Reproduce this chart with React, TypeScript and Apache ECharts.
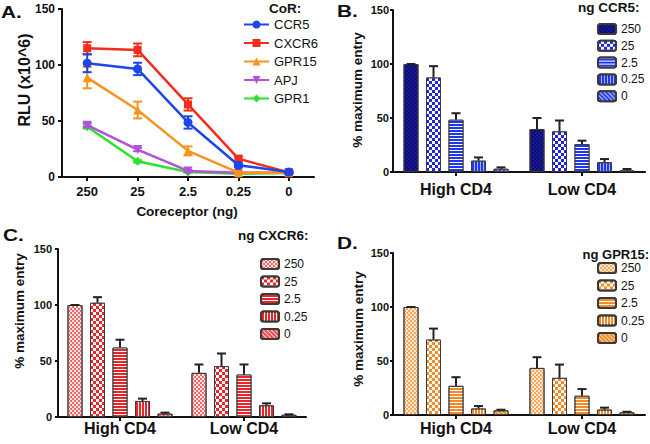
import React, { useEffect, useRef } from 'react';
import * as echarts from 'echarts';

// ---------- data ----------
const doseLabels = ['250', '25', '2.5', '0.25', '0'];
const coreceptors = ['CCR5', 'CXCR6', 'GPR15', 'APJ', 'GPR1'];

const rluCCR5 = [101.6, 96.5, 48.7, 10.5, 4.5];
const rluCCR5Err = [8, 5.5, 5.5, 1.5, 1];
const rluCXCR6 = [115, 113.5, 64.8, 16.4, 4];
const rluCXCR6Err = [5.5, 5.7, 5.5, 2, 1];
const rluGPR15 = [88.7, 59.8, 23.3, 3.9, 3.9];
const rluGPR15Err = [9.5, 7.5, 4, 1, 1];
const rluAPJ = [46.3, 24.5, 5.4, 3.9, 3.9];
const rluAPJErr = [2, 1.5, 1, 0.5, 0.5];
const rluGPR1 = [44.8, 14, 4.5, 3, 3.6];
const rluGPR1Err = [1.5, 1, 0.5, 0.5, 0.5];

const cd4Groups = ['High CD4', 'Low CD4'];

// panel B (CCR5): per dose [High, Low]
const ccr5High = [100, 87.5, 48.4, 10.5, 3];
const ccr5HighErr = [0, 10.5, 6, 3, 1.3];
const ccr5Low = [39.7, 37.6, 25.9, 9, 1.5];
const ccr5LowErr = [10.3, 10.1, 3.1, 3, 1.3];

// panel C (CXCR6)
const cxcr6High = [100, 102, 62, 14.3, 3];
const cxcr6HighErr = [0, 5, 7, 2.1, 0.9];
const cxcr6Low = [39.4, 45.4, 37.9, 10.4, 2];
const cxcr6LowErr = [7.5, 11.3, 9, 1.8, 0.4];

// panel D (GPR15)
const gpr15High = [100, 69.8, 27, 6, 4.3];
const gpr15HighErr = [0, 10.2, 8, 2.3, 0.6];
const gpr15Low = [43.6, 34.4, 17.8, 5, 2.5];
const gpr15LowErr = [9.9, 12.3, 6.2, 1.8, 0.5];

// ---------- styles ----------
const FONT = '"Liberation Sans", Arial, Helvetica, sans-serif';
const INK = '#111';

const lineColors = ['#1e46e6', '#f02d1e', '#f7941d', '#b450dc', '#2fe02f'];
const lineSymbols = ['circle', 'rect', 'triangle', 'triangle', 'diamond'];
const lineSymbolRotate = [0, 0, 0, 180, 0];

const baseDecal = { symbol: 'rect', symbolSize: 1, symbolKeepAspect: false, rotation: 0 };
const decalFine = (c: string) => ({ ...baseDecal, color: c, dashArrayX: [[2, 2], [0, 2, 2, 0]], dashArrayY: [2, 0] });
const decalChecker = (c: string) => ({ ...baseDecal, color: c, dashArrayX: [[3, 3], [0, 3, 3, 0]], dashArrayY: [3, 0] });
const decalHoriz = (c: string) => ({ ...baseDecal, color: c, dashArrayX: [1, 0], dashArrayY: [1, 2] });
const decalVert = (c: string) => ({ ...baseDecal, color: c, dashArrayX: [1, 2], dashArrayY: [1, 0] });
const decalDiag = (c: string) => ({ ...baseDecal, color: c, dashArrayX: [1, 2], dashArrayY: [1, 0], rotation: -Math.PI / 4 });

const panelStyles = {
  B: [
    { color: '#0c0c78', decal: decalFine('#1a1a90') },
    { color: '#1f24e6', decal: decalChecker('#ffffff') },
    { color: '#1f36f0', decal: decalHoriz('#ffffff') },
    { color: '#2238f0', decal: decalVert('#a8b4ff') },
    { color: '#2c44f0', decal: decalDiag('#b8c2ff') },
  ],
  C: [
    { color: '#fde2e2', decal: decalFine('#ee6a6a') },
    { color: '#e8262b', decal: decalChecker('#ffffff') },
    { color: '#e8262b', decal: decalHoriz('#ffffff') },
    { color: '#e8262b', decal: decalVert('#ffffff') },
    { color: '#ee4a4a', decal: decalDiag('#ffd0d0') },
  ],
  D: [
    { color: '#fde6cc', decal: decalFine('#f5a860') },
    { color: '#f28c28', decal: decalChecker('#ffffff') },
    { color: '#f28c28', decal: decalHoriz('#ffffff') },
    { color: '#f28c28', decal: decalVert('#ffffff') },
    { color: '#f28c28', decal: decalDiag('#fdd5a8') },
  ],
};

const BAR_W = 15;
const BAR_STEP = 22.5;

function App() {
  const ref = useRef<HTMLDivElement>(null);

  useEffect(() => {
    if (!ref.current) return;
    const chart = echarts.init(ref.current, undefined, { renderer: 'svg' });

    const rluMeans = [rluCCR5, rluCXCR6, rluGPR15, rluAPJ, rluGPR1];
    const rluErrs = [rluCCR5Err, rluCXCR6Err, rluGPR15Err, rluAPJErr, rluGPR1Err];

    const lineErrRender = (color: string) => (params: any, api: any) => {
      const i = api.value(0);
      const lo = api.coord([i, api.value(1)]);
      const hi = api.coord([i, api.value(2)]);
      const x = lo[0];
      const st = { stroke: color, lineWidth: 2 };
      return {
        type: 'group',
        children: [
          { type: 'line', shape: { x1: x, y1: lo[1], x2: x, y2: hi[1] }, style: st },
          { type: 'line', shape: { x1: x - 4.5, y1: lo[1], x2: x + 4.5, y2: lo[1] }, style: st },
          { type: 'line', shape: { x1: x - 4.5, y1: hi[1], x2: x + 4.5, y2: hi[1] }, style: st },
        ],
      };
    };

    const barErrRender = (params: any, api: any) => {
      const g = api.value(0);
      const b = api.value(1);
      const v = api.value(2);
      const e = api.value(3);
      const base = api.coord([g, v]);
      const top = api.coord([g, v + e]);
      const x = base[0] + (b - 2) * BAR_STEP;
      const st = { stroke: '#222', lineWidth: 2 };
      return {
        type: 'group',
        children: [
          { type: 'line', shape: { x1: x, y1: base[1], x2: x, y2: top[1] }, style: st },
          { type: 'line', shape: { x1: x - 4.5, y1: top[1], x2: x + 4.5, y2: top[1] }, style: st },
        ],
      };
    };

    const series: any[] = [];

    // Panel A lines
    coreceptors.forEach((name, k) => {
      series.push({
        name,
        type: 'line',
        xAxisIndex: 0,
        yAxisIndex: 0,
        data: rluMeans[k],
        symbol: lineSymbols[k],
        symbolRotate: lineSymbolRotate[k],
        symbolSize: k === 1 ? 8 : 9,
        lineStyle: { width: 2.5, color: lineColors[k] },
        itemStyle: { color: lineColors[k] },
        z: 3 + (5 - k),
      });
      series.push({
        type: 'custom',
        xAxisIndex: 0,
        yAxisIndex: 0,
        renderItem: lineErrRender(lineColors[k]),
        data: rluMeans[k].map((m, i) => [i, m - rluErrs[k][i], m + rluErrs[k][i]]),
        encode: { x: 0, y: [1, 2] },
        z: 3 + (5 - k),
      });
    });

    const barPanels = [
      { key: 'B', idx: 1, high: ccr5High, highErr: ccr5HighErr, low: ccr5Low, lowErr: ccr5LowErr },
      { key: 'C', idx: 2, high: cxcr6High, highErr: cxcr6HighErr, low: cxcr6Low, lowErr: cxcr6LowErr },
      { key: 'D', idx: 3, high: gpr15High, highErr: gpr15HighErr, low: gpr15Low, lowErr: gpr15LowErr },
    ];

    barPanels.forEach((p) => {
      const styles = (panelStyles as any)[p.key];
      doseLabels.forEach((dose, b) => {
        series.push({
          name: p.key + ':' + dose,
          type: 'bar',
          xAxisIndex: p.idx,
          yAxisIndex: p.idx,
          data: [p.high[b], p.low[b]],
          barWidth: BAR_W,
          barGap: '50%',
          itemStyle: {
            color: styles[b].color,
            decal: styles[b].decal,
            borderColor: '#3a3a3a',
            borderWidth: 1,
          },
        });
      });
      const errData: number[][] = [];
      doseLabels.forEach((d, b) => {
        errData.push([0, b, p.high[b], p.highErr[b]]);
        errData.push([1, b, p.low[b], p.lowErr[b]]);
      });
      series.push({
        type: 'custom',
        xAxisIndex: p.idx,
        yAxisIndex: p.idx,
        renderItem: barErrRender,
        data: errData,
        encode: { x: 0, y: 2 },
        z: 5,
      });
    });

    const grids = [
      { left: 62, top: 9, width: 252, height: 168 },
      { left: 393, top: 10, width: 252, height: 162 },
      { left: 58, top: 249, width: 248, height: 168 },
      { left: 393, top: 253, width: 252, height: 162 },
    ];

    const axisLine = { show: true, lineStyle: { color: INK, width: 2 } };
    const xAxes = grids.map((g, i) => ({
      type: 'category',
      gridIndex: i,
      data: i === 0 ? doseLabels : cd4Groups,
      boundaryGap: true,
      axisLine,
      axisTick: { show: true, alignWithLabel: true, length: 4, lineStyle: { color: INK, width: 2 } },
      axisLabel: {
        color: INK,
        fontWeight: 'bold',
        fontSize: i === 0 ? 13 : 16,
        margin: [8, 9, 3, 5][i],
        fontFamily: FONT,
      },
      splitLine: { show: false },
    }));
    const yAxes = grids.map((g, i) => ({
      type: 'value',
      gridIndex: i,
      min: 0,
      max: 150,
      interval: 50,
      axisLine,
      axisTick: { show: true, length: i === 0 ? 4 : 3, lineStyle: { color: INK, width: 2 } },
      axisLabel: {
        color: INK,
        fontWeight: 'bold',
        fontSize: i === 0 ? 12 : 11,
        margin: [7, 4, 6, 4][i],
        fontFamily: FONT,
      },
      splitLine: { show: false },
    }));

    const stripName = (n: string) => (n.indexOf(':') >= 0 ? n.split(':')[1] : n);
    const barLegend = (key: string, left: number, top: number, gap: number) => ({
      orient: 'vertical',
      left,
      top,
      itemWidth: 18,
      itemHeight: 10,
      itemGap: gap,
      selectedMode: false,
      data: doseLabels.map((d) => key + ':' + d),
      formatter: stripName,
      textStyle: { fontSize: 12, color: INK, fontFamily: FONT },
    });

    const txt = (text: string, x: number, y: number, opts: any = {}) => ({
      type: 'text',
      x,
      y,
      rotation: opts.rotation || 0,
      scaleX: opts.scaleX || 1,
      style: {
        text,
        fill: INK,
        font: `${opts.weight || 'bold'} ${opts.size || 13}px ${FONT}`,
        textAlign: opts.align || 'left',
        textVerticalAlign: opts.valign || 'middle',
      },
    });

    const option = {
      animation: false,
      textStyle: { fontFamily: FONT },
      grid: grids.map((g) => ({ ...g, containLabel: false })),
      xAxis: xAxes,
      yAxis: yAxes,
      legend: [
        {
          orient: 'vertical',
          left: 238,
          top: 13,
          itemWidth: 25,
          itemHeight: 10,
          itemGap: 5.5,
          selectedMode: false,
          data: coreceptors,
          textStyle: { fontSize: 13, color: INK, fontFamily: FONT },
        },
        barLegend('B', 592, 18, 4.8),
        barLegend('C', 255, 253, 5.5),
        barLegend('D', 592, 257, 5.5),
      ],
      graphic: [
        txt('A.', 1, 12, { size: 16, scaleX: 1.3 }),
        txt('B.', 337, 11, { size: 16, scaleX: 1.3 }),
        txt('C.', 3, 235, { size: 16, scaleX: 1.3 }),
        txt('D.', 337, 243, { size: 16, scaleX: 1.3 }),
        txt('CoR:', 269, 8, { size: 13.5 }),
        txt('ng CCR5:', 578, 7, { size: 13.5 }),
        txt('ng CXCR6:', 238, 235, { size: 13.5 }),
        txt('ng GPR15:', 649, 254, { size: 13, align: 'right' }),
        txt('RLU (x10^6)', 24, 80, { size: 16, rotation: Math.PI / 2, align: 'center' }),
        txt('Coreceptor (ng)', 187, 211, { size: 13.5, align: 'center' }),
        txt('% maximum entry', 357, 90, { size: 13.5, rotation: Math.PI / 2, align: 'center' }),
        txt('% maximum entry', 19, 311, { size: 13.5, rotation: Math.PI / 2, align: 'center' }),
        txt('% maximum entry', 358, 329, { size: 13.5, rotation: Math.PI / 2, align: 'center' }),
      ],
      series,
    };

    chart.setOption(option as any);
    return () => chart.dispose();
  }, []);

  return (
    <div
      ref={ref}
      style={{ position: 'absolute', left: 0, top: 0, width: 650, height: 444, background: '#fff' }}
    />
  );
}

export default App;
